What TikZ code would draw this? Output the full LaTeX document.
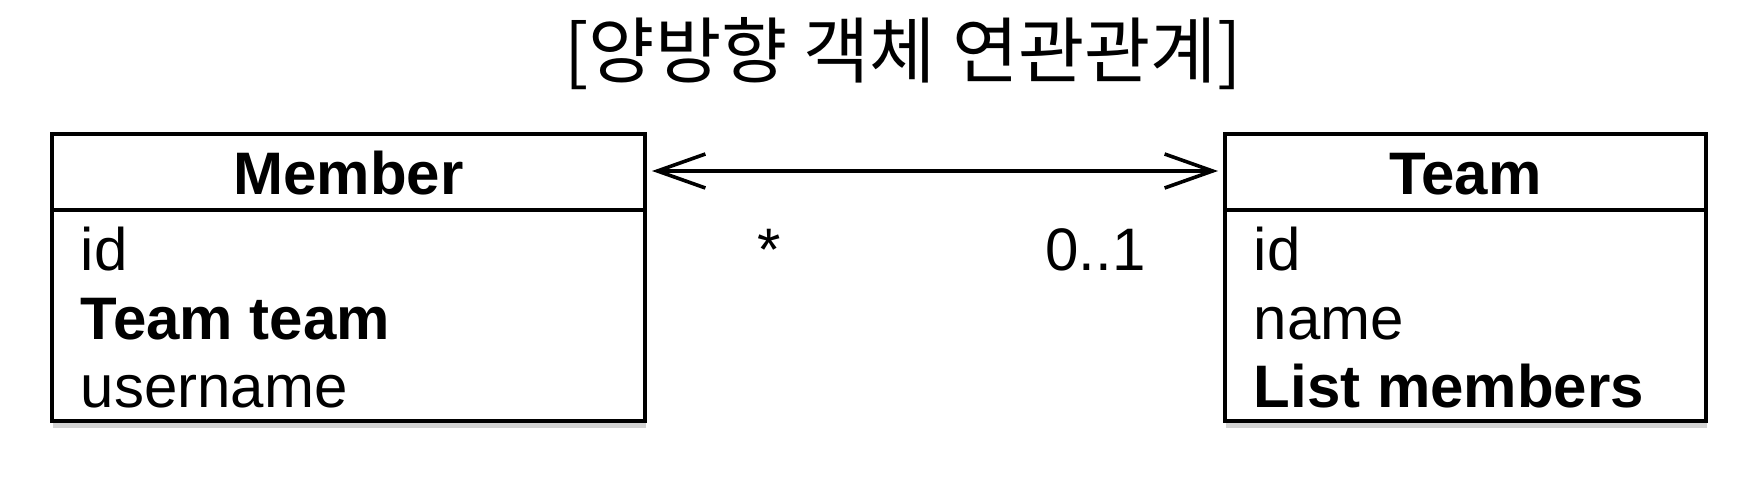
\documentclass[tikz,border=0pt]{standalone}
\usepackage{fontspec}
\setmainfont{Liberation Sans}
\newfontfamily\kr{Noto Sans CJK KR}
\usetikzlibrary{arrows.meta,shadows}
\tikzset{
  umlbox/.style={draw=black, line width=2pt, fill=white, inner sep=0pt,
    drop shadow={shadow xshift=0.6pt, shadow yshift=-3.5pt, opacity=0.35}},
  divline/.style={draw=black, line width=2pt},
  attr/.style={anchor=base west, inner sep=0pt, font=\fontsize{30}{36}\selectfont},
  battr/.style={attr, font=\fontsize{30}{36}\selectfont\bfseries},
  cname/.style={anchor=base, inner sep=0pt, font=\fontsize{30}{36}\selectfont\bfseries},
  mult/.style={anchor=base west, inner sep=0pt, font=\fontsize{30}{36}\selectfont},
  assoc/.style={line width=1.8pt, {Straight Barb[length=24pt, width=17pt, line width=1.8pt]}-{Straight Barb[length=24pt, width=17pt, line width=1.8pt]}, shorten <=2.5pt, shorten >=2.5pt}
}
\begin{document}
\begin{tikzpicture}[x=0.5pt, y=-0.5pt]
\useasboundingbox (0,0) rectangle (1752,480);
% title
\node[anchor=base, inner sep=0pt, font=\kr\fontsize{36}{42}\selectfont] (title) at (903,78) {[양방향 객체 연관관계]};
% Member box
\node[umlbox, minimum width=296.5pt, minimum height=143.5pt] (member) at (348.5,277.5) {};
\draw[divline] ([yshift=-39pt]member.north west) -- ([yshift=-39pt]member.north east);
\node[cname] (membername) at (348.5,195) {Member};
\node[attr] (mid) at (80.5,271) {id};
\node[battr] (mteam) at (80.5,340) {Team team};
\node[attr] (muser) at (80.5,408) {username};
% Team box
\node[umlbox, minimum width=240.5pt, minimum height=143.5pt] (team) at (1465.5,277.5) {};
\draw[divline] ([yshift=-39pt]team.north west) -- ([yshift=-39pt]team.north east);
\node[cname] (teamname) at (1465.5,195) {Team};
\node[attr] (tid) at (1253.5,271) {id};
\node[attr] (tname) at (1253.5,340) {name};
\node[battr] (tlist) at (1253.5,408) {List members};
% association
\draw[assoc] ([yshift=-19.5pt]member.north east) -- ([yshift=-19.5pt]team.north west);
\node[mult] (mstar) at (757,271) {*};
\node[mult] (mzero) at (1045,271) {0..1};
\end{tikzpicture}
\end{document}
